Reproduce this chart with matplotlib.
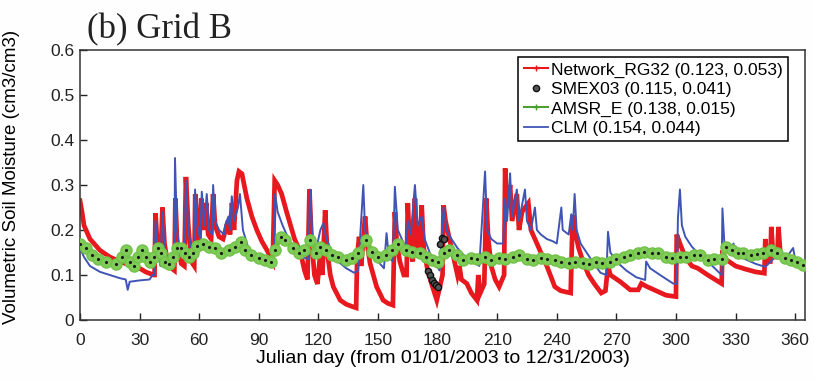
import matplotlib
matplotlib.use("Agg")
import matplotlib.pyplot as plt
from matplotlib.lines import Line2D

# Network_RG32 (red), breakpoints
net_day = [0, 1, 2, 5, 10, 15, 20, 25, 30, 33, 37, 37.5, 38, 39, 40.5, 41.5, 42.5, 44, 46, 47.5,
           48, 49, 51, 52.5, 53.3, 54.5, 56, 57.5, 58, 59, 60, 61, 62, 63.5, 64.5, 66, 67, 68, 70, 72,
           74.5, 75.5, 76.5, 77.5, 79, 80, 81.5, 84, 86.5, 89, 91.5, 94, 97, 98, 99.5, 101.5, 104, 106,
           108, 111, 113, 114.5, 115.5, 116.5, 118, 119.5, 121, 122, 123.4, 124.5, 126, 127.5, 131, 134,
           137, 139, 139.5, 140.5, 141.5, 143.5, 144.5, 146, 149.3, 152.6, 155, 157.5, 158.5, 159.5, 161,
           163, 164.4, 165, 166, 167.5, 168.6, 169.5, 171, 172, 173, 175, 177, 179.6, 182.5, 183, 184,
           186, 188, 190, 191, 192, 194.7, 197, 199.8, 200.5, 201.5, 203.5, 204.5, 205.5, 207, 209, 211,
           213.5, 214, 215, 216.5, 217.5, 219.9, 221, 222.5, 224, 225.7, 227, 229, 232, 235, 239, 242,
           245, 247, 248, 249.5, 251, 253, 256, 259, 262.4, 264.5, 265.8, 267, 272, 277, 281, 282.6, 285,
           290, 295, 300, 300.4, 302, 304.7, 308, 311, 316, 323, 323.4, 325, 330, 335, 340, 344.5, 345,
           346, 347.5, 348, 349, 351, 351.6, 352.6, 355, 358, 361, 364]
net_val = [0.265, 0.24, 0.21, 0.18, 0.155, 0.14, 0.13, 0.122, 0.115, 0.107, 0.10, 0.10, 0.237, 0.16,
           0.13, 0.25, 0.17, 0.13, 0.115, 0.11, 0.27, 0.16, 0.125, 0.12, 0.318, 0.21, 0.13, 0.12, 0.28,
           0.2, 0.17, 0.27, 0.2, 0.26, 0.19, 0.18, 0.28, 0.21, 0.185, 0.18, 0.22, 0.19, 0.26, 0.2, 0.31,
           0.33, 0.325, 0.27, 0.23, 0.2, 0.175, 0.156, 0.13, 0.31, 0.3, 0.28, 0.24, 0.21, 0.18, 0.15,
           0.11, 0.09, 0.29, 0.18, 0.1, 0.08, 0.15, 0.1, 0.244, 0.15, 0.1, 0.074, 0.044, 0.035, 0.03,
           0.027, 0.14, 0.185, 0.12, 0.23, 0.17, 0.126, 0.074, 0.044, 0.037, 0.033, 0.24, 0.17, 0.13,
           0.1, 0.1, 0.26, 0.16, 0.13, 0.27, 0.17, 0.14, 0.255, 0.16, 0.11, 0.08, 0.044, 0.1, 0.255,
           0.22, 0.18, 0.14, 0.1, 0.12, 0.09, 0.081, 0.06, 0.044, 0.1, 0.06, 0.08, 0.27, 0.18, 0.12,
           0.09, 0.074, 0.1, 0.337, 0.25, 0.3, 0.22, 0.28, 0.2, 0.24, 0.25, 0.26, 0.2, 0.18, 0.15, 0.12,
           0.074, 0.065, 0.062, 0.06, 0.233, 0.19, 0.16, 0.133, 0.1, 0.08, 0.06, 0.065, 0.12, 0.1,
           0.085, 0.067, 0.067, 0.081, 0.075, 0.065, 0.055, 0.052, 0.19, 0.17, 0.14, 0.12, 0.115, 0.1,
           0.081, 0.155, 0.135, 0.12, 0.113, 0.107, 0.104, 0.18, 0.13, 0.13, 0.207, 0.14, 0.14, 0.207,
           0.145, 0.14, 0.135, 0.13, 0.126]

# CLM (blue)
clm_day = [0, 2, 5, 10, 15, 20, 23, 24, 25, 30, 35, 36.5, 37.5, 38, 39, 40.5, 41.5, 42.5, 45, 47.5,
           47.8, 48.8, 50, 52.5, 53.3, 54.5, 56, 57.5, 57.9, 59, 60.5, 61.3, 62.5, 63.8, 65, 66.5, 67,
           68, 70, 72.5, 73, 74.7, 75.5, 76.4, 77.5, 79.5, 80.5, 82, 85, 88, 91, 95, 97.5, 98.2, 99.5,
           102, 105, 108, 112, 115, 115.8, 117, 119, 121, 122.5, 124, 127, 130, 134, 138, 140, 142.6,
           143.5, 146, 150, 153, 154.3, 155.5, 157.5, 158.5, 160, 162, 164, 165, 166.5, 168.6, 170, 172,
           173.5, 176, 179, 181, 183, 184.5, 187, 190, 194, 198, 201, 203.9, 205, 207, 210, 213, 214,
           215, 216.5, 217.5, 219.9, 221, 224, 225, 227, 229, 230, 232, 235, 238, 240, 242.3, 243, 246,
           247.3, 248, 249, 250, 252, 255, 258, 262, 265, 265.8, 267, 270, 275, 280, 284.5, 285, 287,
           292, 298.6, 300.4, 301, 302, 303, 304.7, 308, 313, 316, 323, 323.4, 324.5, 327, 329, 330, 335,
           340, 345, 350, 355, 359, 360, 364]
clm_val = [0.16, 0.14, 0.12, 0.107, 0.1, 0.093, 0.09, 0.067, 0.085, 0.088, 0.09, 0.1, 0.1, 0.22, 0.15,
           0.12, 0.24, 0.16, 0.13, 0.12, 0.36, 0.2, 0.16, 0.14, 0.31, 0.2, 0.16, 0.15, 0.29, 0.21, 0.18,
           0.285, 0.21, 0.28, 0.2, 0.19, 0.3, 0.22, 0.2, 0.19, 0.21, 0.23, 0.2, 0.275, 0.22, 0.25, 0.28,
           0.2, 0.156, 0.14, 0.13, 0.125, 0.125, 0.28, 0.24, 0.21, 0.18, 0.155, 0.14, 0.135, 0.29, 0.19,
           0.16, 0.2, 0.215, 0.18, 0.15, 0.13, 0.115, 0.105, 0.11, 0.30, 0.2, 0.16, 0.13, 0.115, 0.193,
           0.14, 0.13, 0.296, 0.2, 0.18, 0.16, 0.22, 0.19, 0.30, 0.21, 0.23, 0.18, 0.15, 0.125, 0.11,
           0.25, 0.2, 0.18, 0.16, 0.14, 0.13, 0.12, 0.33, 0.2, 0.18, 0.17, 0.17, 0.27, 0.22, 0.326, 0.23,
           0.29, 0.22, 0.29, 0.22, 0.2, 0.25, 0.2, 0.19, 0.18, 0.175, 0.17, 0.25, 0.2, 0.19, 0.235, 0.2,
           0.28, 0.2, 0.17, 0.15, 0.13, 0.105, 0.1, 0.196, 0.15, 0.13, 0.11, 0.095, 0.089, 0.13, 0.115,
           0.1, 0.081, 0.08, 0.226, 0.29, 0.21, 0.185, 0.163, 0.14, 0.13, 0.1, 0.248, 0.16, 0.15, 0.17,
           0.15, 0.135, 0.125, 0.118, 0.14, 0.135, 0.16, 0.135, 0.13]

# AMSR_E (green)
amsr_day = [0, 3, 6, 9, 13, 18, 21, 23, 25, 27, 29, 31, 33, 35, 37, 39, 41, 43, 45, 47, 49, 51, 53, 55,
            57, 59, 62, 65, 68, 71, 75, 78, 81, 83, 86, 90, 93, 96, 98, 101, 103, 107, 110, 113, 116,
            119, 121, 124, 127, 130, 134, 137, 140, 144, 147, 150, 154, 157, 160, 164, 167, 171, 174,
            177, 180, 183, 186, 190, 193, 197, 200, 204, 207, 211, 214, 218, 221, 225, 228, 232, 235,
            239, 242, 246, 249, 253, 256, 260, 263, 267, 270, 274, 277, 281, 284, 288, 291, 295, 298,
            302, 305, 309, 312, 316, 319, 323, 325, 328, 331, 334, 338, 341, 344, 348, 351, 355, 358,
            361, 364]
amsr_val = [0.17, 0.16, 0.145, 0.135, 0.13, 0.125, 0.14, 0.155, 0.13, 0.12, 0.14, 0.155, 0.14, 0.13,
            0.14, 0.16, 0.15, 0.13, 0.125, 0.14, 0.16, 0.16, 0.15, 0.14, 0.15, 0.165, 0.17, 0.163, 0.16,
            0.148, 0.155, 0.163, 0.174, 0.155, 0.144, 0.137, 0.133, 0.13, 0.155, 0.185, 0.178, 0.16,
            0.148, 0.155, 0.178, 0.148, 0.163, 0.155, 0.144, 0.14, 0.133, 0.137, 0.148, 0.178, 0.152,
            0.14, 0.144, 0.155, 0.17, 0.155, 0.152, 0.148, 0.14, 0.133, 0.128, 0.148, 0.155, 0.144,
            0.133, 0.138, 0.135, 0.14, 0.134, 0.138, 0.135, 0.14, 0.144, 0.136, 0.133, 0.138, 0.135,
            0.133, 0.128, 0.126, 0.128, 0.126, 0.124, 0.128, 0.126, 0.13, 0.135, 0.14, 0.144, 0.148,
            0.152, 0.15, 0.148, 0.14, 0.137, 0.14, 0.14, 0.144, 0.144, 0.133, 0.135, 0.135, 0.163,
            0.155, 0.15, 0.148, 0.144, 0.146, 0.148, 0.155, 0.15, 0.137, 0.133, 0.13, 0.122]

# SMEX03 (black circles)
smex_day = [175, 176, 177, 178, 179, 180, 181, 182, 183]
smex_val = [0.11, 0.10, 0.089, 0.083, 0.078, 0.074, 0.17, 0.183, 0.18]

labels = ["Network_RG32 (0.123, 0.053)", "SMEX03 (0.115, 0.041)",
          "AMSR_E (0.138, 0.015)", "CLM (0.154, 0.044)"]

plt.rcParams['font.family'] = ['Liberation Sans Narrow', 'Liberation Sans', 'DejaVu Sans']

fig = plt.figure(figsize=(8.15, 3.82), dpi=100)
fig.patch.set_facecolor('#fdfefd')
ax = fig.add_axes([0.0982, 0.1623, 0.8896, 0.7068])

red = '#e8191e'
blue = '#3f55b5'
green = '#6cc040'

ax.plot(net_day, net_val, color=red, linewidth=3.4, solid_joinstyle='miter', zorder=2)
ax.plot(clm_day, clm_val, color=blue, linewidth=1.4, zorder=3)
ax.plot(amsr_day, amsr_val, color=green, linewidth=3.5, marker='o', markersize=8,
        markerfacecolor='#80cc58', markeredgecolor='#72c248', zorder=4)
ax.plot(amsr_day, amsr_val, linestyle='none', marker='.', markersize=2.5, color='#1a1a1a', zorder=5)
ax.plot(smex_day, smex_val, linestyle='none', marker='o', markersize=4.5,
        markerfacecolor='#555555', markeredgecolor='#111111', zorder=6)

ax.set_xlim(0, 365)
ax.set_ylim(0, 0.6)
ax.set_xticks(range(0, 361, 30))
ax.set_yticks([0, 0.1, 0.2, 0.3, 0.4, 0.5, 0.6])
ax.set_yticklabels(['0', '0.1', '0.2', '0.3', '0.4', '0.5', '0.6'])
ax.tick_params(direction='in', length=5, width=1, labelsize=12.5, colors='#222222')
ax.tick_params(axis='x', pad=9)
ax.tick_params(axis='y', pad=4)
for sp in ax.spines.values():
    sp.set_linewidth(1.1)
    sp.set_color('#333333')

ax.set_xlabel('Julian day (from 01/01/2003 to 12/31/2003)', fontsize=14, labelpad=2)
ax.set_ylabel('Volumetric Soil Moisture (cm3/cm3)', fontsize=13.5, labelpad=3)
ax.yaxis.set_label_coords(-0.083, 0.53)

fig.text(0.107, 0.88, '(b) Grid B', fontsize=25, family=['Liberation Serif', 'DejaVu Serif'],
         color='#222222', va='bottom')

handles = [
    Line2D([], [], color=red, linewidth=1.5, marker='+', markersize=4),
    Line2D([], [], linestyle='none', marker='o', markersize=4.5,
           markerfacecolor='#555555', markeredgecolor='#111111'),
    Line2D([], [], color='#4aa030', linewidth=1.5, marker='+', markersize=5),
    Line2D([], [], color=blue, linewidth=1.3),
]
leg = ax.legend(handles, labels, loc='upper right', bbox_to_anchor=(0.977, 0.974), borderaxespad=0,
                fontsize=12.5, fancybox=False, edgecolor='black', framealpha=1,
                handlelength=1.4, handletextpad=0.2, labelspacing=0.25, borderpad=0.3)
leg.get_frame().set_linewidth(1.1)

fig.savefig('out.png', dpi=100, facecolor=fig.get_facecolor())
